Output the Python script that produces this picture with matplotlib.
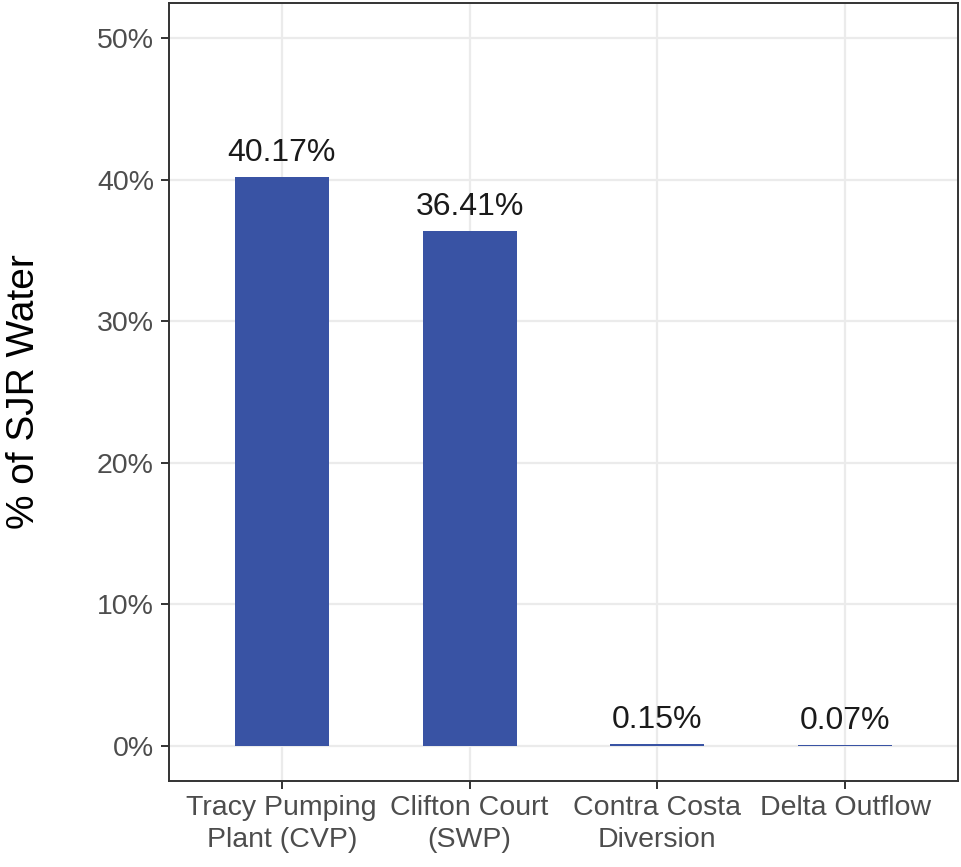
import matplotlib
matplotlib.use("Agg")
import matplotlib.pyplot as plt
from matplotlib.ticker import FuncFormatter

categories = ["Tracy Pumping\nPlant (CVP)", "Clifton Court\n(SWP)", "Contra Costa\nDiversion", "Delta Outflow"]
values = [40.17, 36.41, 0.15, 0.07]
labels = ["40.17%", "36.41%", "0.15%", "0.07%"]
yticks = [0, 10, 20, 30, 40, 50]

plt.rcParams['font.family'] = ['Liberation Sans', 'DejaVu Sans']

fig = plt.figure(figsize=(9.61, 8.67), dpi=100)
ax = fig.add_axes([169/961, 1-781/867, (958-169)/961, (781-3)/867])

x = list(range(len(categories)))
ax.bar(x, values, width=0.5, color="#3953A4", zorder=3)

for xi, v, lab in zip(x, values, labels):
    ax.annotate(lab, (xi, v), xytext=(0, 11.5), textcoords="offset points",
                ha="center", va="baseline", fontsize=23, color="#1A1A1A", zorder=4)

ax.set_xlim(-0.6, 3.6)
ax.set_ylim(-2.5, 52.5)
ax.set_yticks(yticks)
ax.yaxis.set_major_formatter(FuncFormatter(lambda v, p: f"{v:.0f}%"))
ax.set_xticks(x)
ax.set_xticklabels(categories, linespacing=1.3)

ax.grid(True, color="#EBEBEB", linewidth=1.6, zorder=0)
ax.set_axisbelow(True)
for s in ax.spines.values():
    s.set_color("#333333")
    s.set_linewidth(1.4)
    s.set_zorder(5)

ax.tick_params(axis="both", length=5.8, width=1.4, color="#333333",
               labelcolor="#4D4D4D", labelsize=20.5)
ax.tick_params(axis="y", pad=5)
ax.tick_params(axis="x", pad=4)

fig.text(24/961, 1-392/867, "% of SJR Water", rotation=90, ha="center", va="center",
         fontsize=28, color="#000000")

fig.savefig("out.png", dpi=100, facecolor="white")
